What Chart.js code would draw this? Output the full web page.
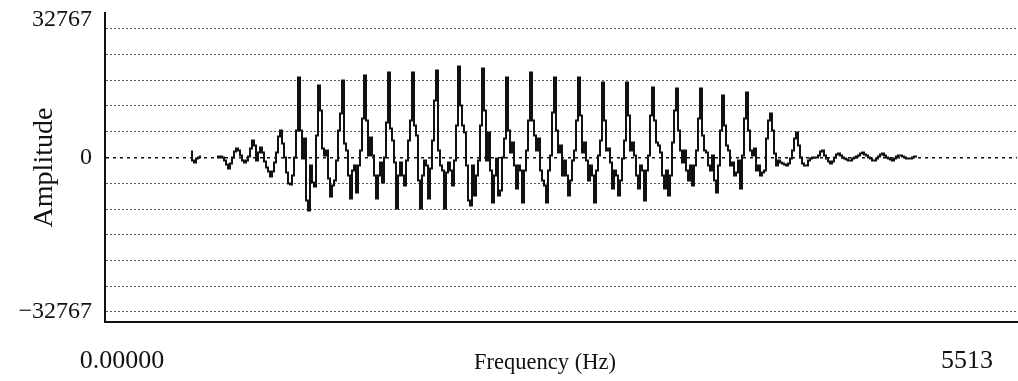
<!DOCTYPE html>
<html lang="en">
<head>
<meta charset="UTF-8" />
<title>Amplitude plot</title>
<script src="https://cdn.jsdelivr.net/npm/chart.js"></script>
<style>
  html, body { margin:0; padding:0; background:#fff; }
</style>
</head>
<body>
<canvas id="waveChart" width="1018" height="381"></canvas>
<script>
// --------- values ---------
// sample index of the first amplitude (one sample every 2 px of the original)
const firstSample = 43;
const amplitudes = [
  1530,-760,-1270,-250,0,250,
  null,null,null,null,null,null,null,
  0,250,250,0,-760,-1780,-2800,-1530,0,1530,
  2290,1780,510,-760,-1270,-760,250,2290,4330,3050,
  -760,1270,2550,1270,-1020,-2550,-3560,-4840,-3560,-1270,
  1270,5340,6870,3560,0,-3820,-6620,-6870,-4580,0,
  6870,20360,6870,-250,4840,-10940,-13490,-2040,-6360,-7380,
  5600,18320,11960,2290,510,1780,-5340,-9930,-7130,-5850,
  -760,6870,11200,19600,3560,1780,-4580,-10430,-3310,-2040,
  -8910,-2040,1780,9930,20870,9420,510,5090,510,-4580,
  -10430,-4580,-1270,-6360,0,8910,21630,7380,4330,-1270,
  -12980,-4580,-1270,-4580,-7130,-760,4330,9420,21630,8140,
  5600,-5850,-12980,-4580,-760,-2040,-10430,-2800,4330,14510,
  22140,1780,-2040,-3310,-12980,-3820,-1270,-3310,-7130,-760,
  8140,23160,13230,8140,6360,-2040,-10940,-12220,-2040,-9670,
  -4580,-760,8140,22650,11960,-760,6360,-3310,-11450,-4580,
  -250,-9670,-8400,0,4840,20360,6870,1270,3820,-2040,
  -7890,-2040,-3310,-11450,-3310,1780,9420,21630,9420,5600,
  1780,4840,-3310,-5850,-7130,-11450,-3310,510,11450,20360,
  6870,1270,3050,-4580,-760,-4580,-9670,-5850,-760,1780,
  9420,20360,10690,1270,3820,-760,-5850,-2040,-4580,-11450,
  -3310,510,4330,19090,9420,1780,2290,-1270,-7890,-3310,
  -4580,-9670,-5850,-250,4330,19090,10690,1780,3820,510,
  -4580,-7890,-2040,-3310,-10940,-3310,510,10690,17820,9420,
  3820,3050,1270,-4580,-7890,-3310,-9670,-4580,3820,11960,
  17560,6870,1780,-1270,1780,-3310,-5850,-2040,-7130,-2040,
  1780,9930,17560,5600,1780,1270,-2040,-3310,510,-5850,
  -8910,-2040,6870,15780,8140,3050,1780,-2040,-1270,-4580,
  -3820,-760,-7890,510,9930,16540,6870,1780,510,2290,
  -3310,-2040,-4580,-3820,-3310,4840,9420,11200,6870,1020,
  -2040,-760,-1270,-1530,-1780,-2040,-1530,-250,1780,4840,
  6360,3050,0,-1530,-2040,-2040,-760,-250,0,0,
  0,510,1530,1780,510,-250,-1020,-1530,-1020,0,
  760,1020,510,0,-250,-510,-760,-760,-250,0,
  250,510,1020,1270,760,510,0,-250,-760,-760,
  -250,250,760,1020,510,0,-250,-510,-760,-250,
  250,510,510,250,0,-250,-250,-250,0,250,250
];
// horizontal dotted lines and axis labels
const yGridValues = [-39320, -32767, -26214, -19660, -13107, -6553, 0, 6553, 13107, 19660, 26214, 32767];
const yLabelValues = [34990, 0, -39320];
const yLabelTexts = ['32767', '0', '\u221232767'];
const xTickValues = [8.5, 220, 431];
const xTickLabels = ['0.00000', 'Frequency (Hz)', '5513'];

const serif = 'Liberation Serif';
const points = amplitudes.map((a, i) => ({x: firstSample + i, y: a}));
const yTicks = yGridValues.concat([yLabelValues[0]]);

new Chart(document.getElementById('waveChart'), {
  type: 'line',
  data: {
    datasets: [{
      data: points,
      borderColor: '#111',
      borderWidth: 2,
      pointRadius: 0,
      stepped: 'middle',
      spanGaps: false
    }]
  },
  options: {
    responsive: false,
    animation: false,
    devicePixelRatio: 1,
    layout: {padding: {top: 13, right: 1, bottom: 0, left: 0}},
    plugins: {legend: {display: false}, tooltip: {enabled: false}},
    scales: {
      x: {
        type: 'linear',
        min: 0,
        max: 456,
        afterBuildTicks: s => { s.ticks = xTickValues.map(v => ({value: v})); },
        afterFit: s => { s.height = 59; s.paddingLeft = 0; s.paddingRight = 0; },
        grid: {display: false, drawTicks: false},
        border: {display: true, color: '#111', width: 2},
        ticks: {
          autoSkip: false,
          maxRotation: 0,
          padding: 24,
          color: '#111',
          // the axis name is set a little smaller than the numbers, same baseline
          font: c => c.index === 1
            ? {family: serif, size: 22.5, lineHeight: '34px'}
            : {family: serif, size: 26, lineHeight: '31.2px'},
          callback: (v, i) => xTickLabels[i]
        }
      },
      y: {
        type: 'linear',
        min: -41865,
        max: 36775,
        afterBuildTicks: s => { s.ticks = yTicks.map(v => ({value: v})); },
        afterFit: s => { s.width = 105; s.paddingTop = 0; s.paddingBottom = 0; },
        grid: {
          drawTicks: false,
          color: c => (c.tick && c.tick.value === yLabelValues[0]) ? 'rgba(0,0,0,0)' : (c.tick && c.tick.value === 0 ? '#111' : '#555'),
          lineWidth: c => (c.tick && c.tick.value === 0) ? 1.5 : 1
        },
        border: {
          display: true, color: '#111', width: 2,
          dash: c => (c.tick && c.tick.value === 0) ? [3, 4] : [2, 2]
        },
        ticks: {
          autoSkip: false,
          padding: 13,
          color: '#111',
          font: {family: serif, size: 24},
          callback: v => {
            const k = yLabelValues.indexOf(v);
            return k >= 0 ? yLabelTexts[k] : '';
          }
        },
        title: {
          display: true,
          text: 'Amplitude',
          color: '#111',
          font: {family: serif, size: 28},
          padding: {top: 28}
        }
      }
    }
  }
});
</script>
</body>
</html>
